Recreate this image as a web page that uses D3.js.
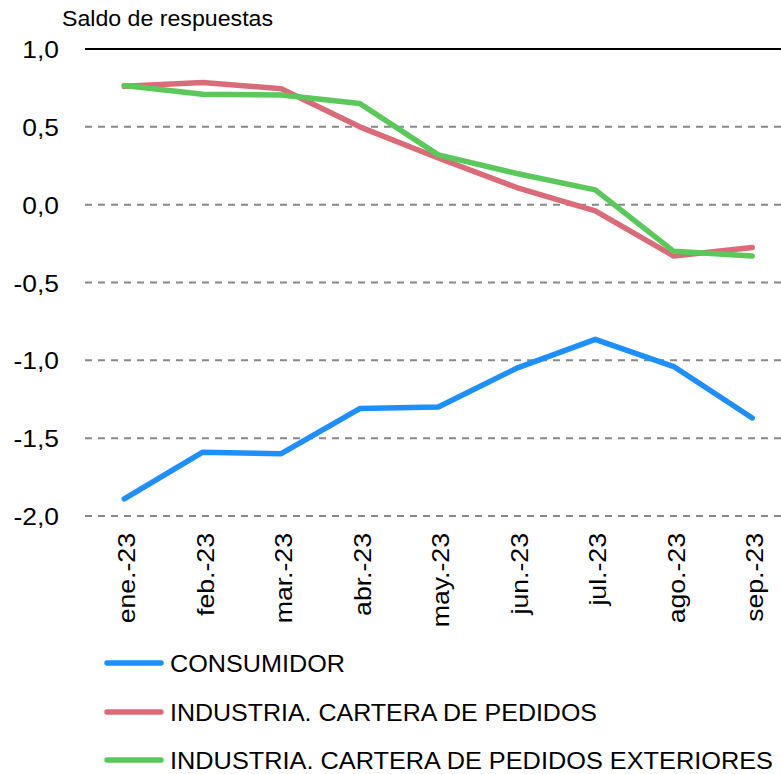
<!DOCTYPE html>
<html><head><meta charset="utf-8">
<script src="https://cdn.jsdelivr.net/npm/d3@7"></script>
<style>body{margin:0;background:#fff}svg{display:block}text{font-family:"Liberation Sans",Arial,sans-serif;fill:#000}</style>
</head><body>
<svg id="c" width="781" height="774"></svg>
<script>
const months = ["ene.-23","feb.-23","mar.-23","abr.-23","may.-23","jun.-23","jul.-23","ago.-23","sep.-23"];
const consumidor = [-1.89,-1.59,-1.60,-1.31,-1.30,-1.05,-0.865,-1.04,-1.37];
const pedidos = [0.76,0.785,0.745,0.50,0.30,0.11,-0.04,-0.33,-0.275];
const exteriores = [0.765,0.71,0.705,0.65,0.32,0.20,0.095,-0.30,-0.33];
const yTicks = [1.0,0.5,0.0,-0.5,-1.0,-1.5,-2.0];
const seriesNames = ["CONSUMIDOR","INDUSTRIA. CARTERA DE PEDIDOS","INDUSTRIA. CARTERA DE PEDIDOS EXTERIORES"];
const colors = ["#1E8FFF","#DA6B78","#5AC85A"];

const svg = d3.select("#c");
const x = d3.scaleBand().domain(months).range([85, 791.5]);
const y = d3.scaleLinear().domain([-2,1]).range([516,49]);
const fmt = v => d3.format(".1f")(v).replace(".",",").replace("−","-");

// gridlines
svg.append("g").selectAll("line").data(yTicks).join("line")
  .attr("x1",85).attr("x2",781).attr("y1",d=>y(d)).attr("y2",d=>y(d))
  .attr("stroke",d=>d===1?"#000":"#888").attr("stroke-width",2)
  .attr("stroke-dasharray",d=>d===1?null:"7,6");

// y labels
svg.append("g").selectAll("text").data(yTicks).join("text")
  .attr("x",59).attr("y",d=>y(d)+9).attr("text-anchor","end")
  .style("font-size","24px").text(fmt)
  .each(function(){ const w=this.getComputedTextLength(); d3.select(this).attr("textLength",w*1.1).attr("lengthAdjust","spacingAndGlyphs"); });

svg.append("text").attr("x",62).attr("y",26).style("font-size","22px")
  .attr("textLength",211).attr("lengthAdjust","spacingAndGlyphs").text("Saldo de respuestas");

// x labels
svg.append("g").selectAll("text").data(months).join("text")
  .attr("transform",d=>`translate(${x(d)+x.bandwidth()/2+11},533) rotate(-90)`)
  .attr("text-anchor","end").style("font-size","24px").text(d=>d)
  .each(function(){ const w=this.getComputedTextLength(); d3.select(this).attr("textLength",w*1.11).attr("lengthAdjust","spacingAndGlyphs"); });

const line = d3.line().x((d,i)=>x(months[i])+x.bandwidth()/2).y(d=>y(d));
[consumidor,pedidos,exteriores].forEach((s,k)=>{
  svg.append("path").datum(s).attr("d",line).attr("fill","none")
    .attr("stroke",colors[k]).attr("stroke-width",5.5)
    .attr("stroke-linecap","round").attr("stroke-linejoin","round");
});

// legend
const legY = [663,712,760];
const legW = [175,427,603];
seriesNames.forEach((n,k)=>{
  svg.append("line").attr("x1",107).attr("x2",161).attr("y1",legY[k]).attr("y2",legY[k])
    .attr("stroke",colors[k]).attr("stroke-width",5.5).attr("stroke-linecap","round");
  svg.append("text").attr("x",170).attr("y",legY[k]+9).style("font-size","24px")
    .attr("textLength",legW[k]).attr("lengthAdjust","spacingAndGlyphs").text(n);
});
</script>
</body></html>
